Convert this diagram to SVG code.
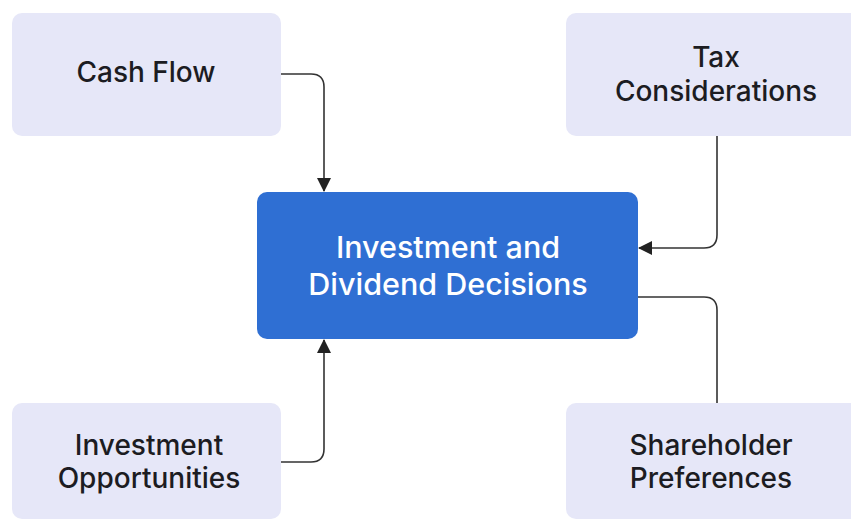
<svg xmlns="http://www.w3.org/2000/svg" width="851" height="521" viewBox="0 0 851 521">
  <defs>
    <marker id="arrow" viewBox="0 0 14 14" refX="13" refY="7" markerWidth="14" markerHeight="14" markerUnits="userSpaceOnUse" orient="auto">
      <path d="M0,0 L14,7 L0,14 Z" fill="#222"/>
    </marker>
    <style>
      .factor rect { fill: #E6E7F8; }
      .factor text { fill: #1c1c22; font-family: Inter, "Liberation Sans", sans-serif; font-size: 28px; font-weight: 500; text-anchor: middle; }
      .core rect { fill: #2F6FD3; }
      .core text { fill: #ffffff; font-family: Inter, "Liberation Sans", sans-serif; font-size: 30.5px; font-weight: 500; text-anchor: middle; }
      .link { fill: none; stroke: #333; stroke-width: 1.6; }
    </style>
  </defs>

  <rect width="851" height="521" fill="#ffffff"/>

  <!-- connectors -->
  <g id="connectors">
    <path class="link" d="M281,74 H311 Q324,74 324,87 V191" marker-end="url(#arrow)"/>
    <path class="link" d="M717,136 V235 Q717,248 704,248 H639" marker-end="url(#arrow)"/>
    <path class="link" d="M638,297 H704 Q717,297 717,310 V403"/>
    <path class="link" d="M281,462 H311 Q324,462 324,449 V340" marker-end="url(#arrow)"/>
  </g>

  <!-- factor nodes -->
  <g id="cash-flow" class="factor">
    <rect x="12" y="13" width="269" height="123" rx="10"/>
    <text x="146" y="82">Cash Flow</text>
  </g>
  <g id="tax-considerations" class="factor">
    <rect x="566" y="13" width="300" height="123" rx="10"/>
    <text x="716" y="67">Tax</text>
    <text x="716" y="101">Considerations</text>
  </g>
  <g id="investment-opportunities" class="factor">
    <rect x="12" y="403" width="269" height="116" rx="10"/>
    <text x="149" y="455">Investment</text>
    <text x="149" y="488">Opportunities</text>
  </g>
  <g id="shareholder-preferences" class="factor">
    <rect x="566" y="403" width="300" height="116" rx="10"/>
    <text x="711" y="455">Shareholder</text>
    <text x="711" y="488">Preferences</text>
  </g>

  <!-- central decision node -->
  <g id="decisions" class="core">
    <rect x="257" y="192" width="381" height="147" rx="10"/>
    <text x="448" y="258">Investment and</text>
    <text x="448" y="295">Dividend Decisions</text>
  </g>
</svg>
